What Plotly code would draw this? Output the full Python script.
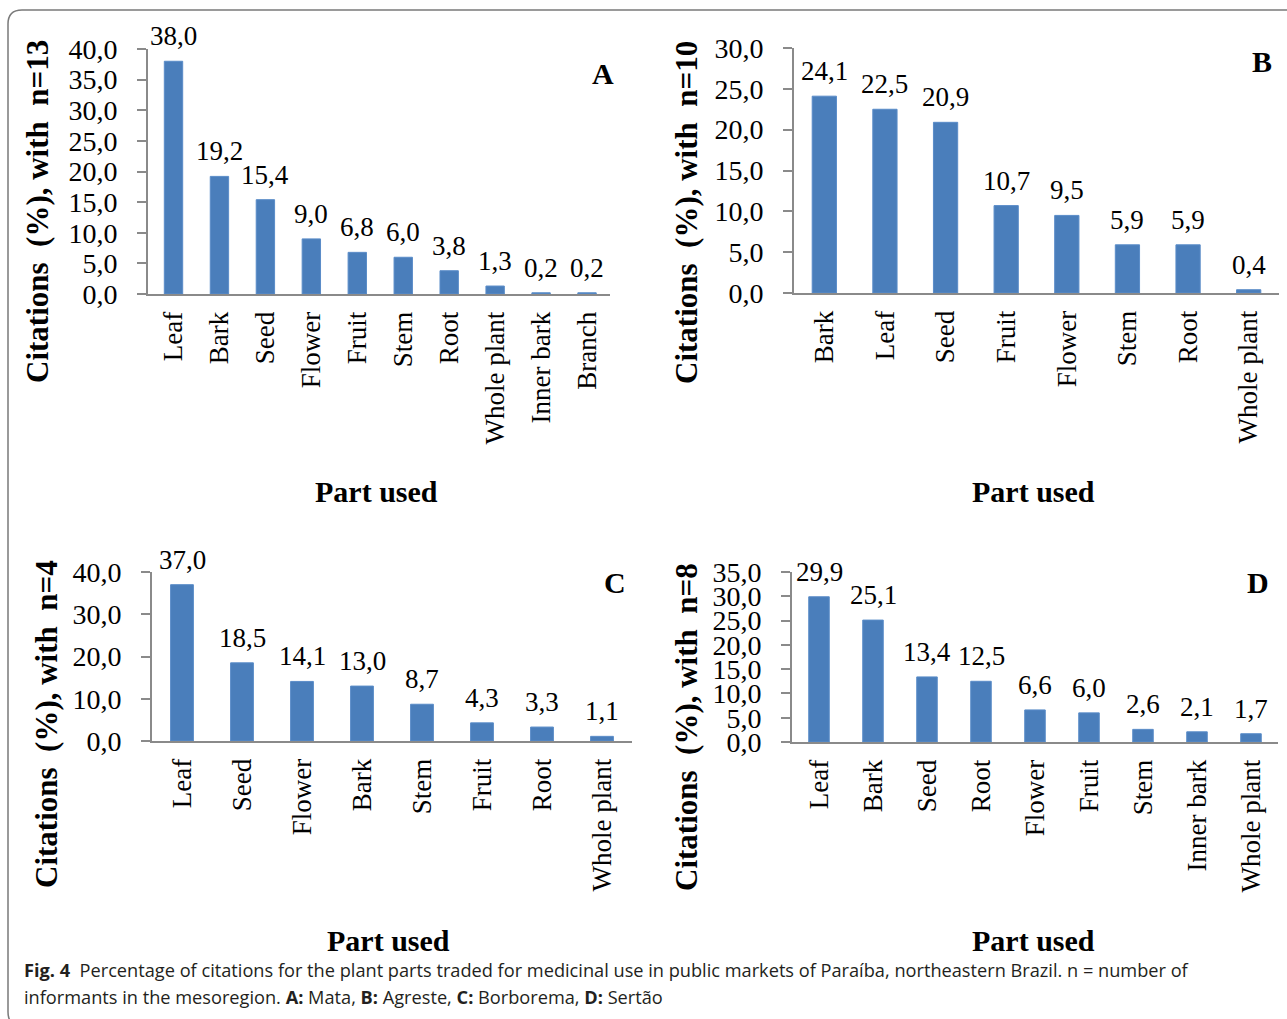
import plotly.graph_objects as go

W, H = 1287, 1019

# ---- data -----------------------------------------------------------------
# A: Mata (n=13)
parts_a = ["Leaf", "Bark", "Seed", "Flower", "Fruit", "Stem", "Root",
           "Whole plant", "Inner bark", "Branch"]
cit_a = [38.0, 19.2, 15.4, 9.0, 6.8, 6.0, 3.8, 1.3, 0.2, 0.2]
tickvals_a = [0, 5, 10, 15, 20, 25, 30, 35, 40]
ticktext_a = ["0,0", "5,0", "10,0", "15,0", "20,0", "25,0", "30,0", "35,0", "40,0"]

# B: Agreste (n=10)
parts_b = ["Bark", "Leaf", "Seed", "Fruit", "Flower", "Stem", "Root", "Whole plant"]
cit_b = [24.1, 22.5, 20.9, 10.7, 9.5, 5.9, 5.9, 0.4]
tickvals_b = [0, 5, 10, 15, 20, 25, 30]
ticktext_b = ["0,0", "5,0", "10,0", "15,0", "20,0", "25,0", "30,0"]

# C: Borborema (n=4)
parts_c = ["Leaf", "Seed", "Flower", "Bark", "Stem", "Fruit", "Root", "Whole plant"]
cit_c = [37.0, 18.5, 14.1, 13.0, 8.7, 4.3, 3.3, 1.1]
tickvals_c = [0, 10, 20, 30, 40]
ticktext_c = ["0,0", "10,0", "20,0", "30,0", "40,0"]

# D: Sertão (n=8)
parts_d = ["Leaf", "Bark", "Seed", "Root", "Flower", "Fruit", "Stem",
           "Inner bark", "Whole plant"]
cit_d = [29.9, 25.1, 13.4, 12.5, 6.6, 6.0, 2.6, 2.1, 1.7]
tickvals_d = [0, 5, 10, 15, 20, 25, 30, 35]
ticktext_d = ["0,0", "5,0", "10,0", "15,0", "20,0", "25,0", "30,0", "35,0"]

y_titles = ["Citations  (%), with  n=13", "Citations  (%), with  n=10",
            "Citations  (%), with  n=4", "Citations  (%), with  n=8"]
panel_letters = ["A", "B", "C", "D"]
x_title = "Part used"

# ---- styling ----------------------------------------------------------------
SERIF = "Liberation Serif"
BAR = "#4A7EBB"
AXIS = "#8A8A8A"


def fx(px):
    return px / W


def fy(py):
    return 1 - py / H


panels = [
    # data, pixel box of plot area (x0, x1, ytop, ybottom), y max, bar width,
    # y-title centre, x-title centre, letter position
    dict(parts=parts_a, vals=cit_a, tv=tickvals_a, tt=ticktext_a, ymax=40,
         box=(148, 610, 49, 294), bw=0.40, yt=(38, 212), xt=(376, 492), lt=(603, 73)),
    dict(parts=parts_b, vals=cit_b, tv=tickvals_b, tt=ticktext_b, ymax=30,
         box=(794, 1279, 48, 293), bw=0.40, yt=(686, 213), xt=(1033, 492), lt=(1262, 62)),
    dict(parts=parts_c, vals=cit_c, tv=tickvals_c, tt=ticktext_c, ymax=40,
         box=(152, 632, 572, 741), bw=0.38, yt=(46, 724), xt=(388, 940), lt=(615, 582)),
    dict(parts=parts_d, vals=cit_d, tv=tickvals_d, tt=ticktext_d, ymax=35,
         box=(792, 1278, 572, 742), bw=0.38, yt=(686, 727), xt=(1033, 940), lt=(1258, 582)),
]

fig = go.Figure()
layout = dict(
    width=W, height=H,
    margin=dict(l=0, r=0, t=0, b=0, autoexpand=False),
    paper_bgcolor="white", plot_bgcolor="white",
    showlegend=False,
    font=dict(family=SERIF, color="black"),
)
annotations = []

for i, p in enumerate(panels):
    k = "" if i == 0 else str(i + 1)
    xa, ya = "x" + k, "y" + k
    x0, x1, yt, yb = p["box"]

    fig.add_trace(go.Bar(
        x=p["parts"], y=p["vals"], xaxis=xa, yaxis=ya,
        width=p["bw"], marker=dict(color=BAR, line=dict(color="#5A8CC8", width=1)),
        hoverinfo="x+y",
    ))

    layout["xaxis" + k] = dict(
        domain=[fx(x0), fx(x1)], anchor=ya, type="category",
        categoryorder="array", categoryarray=p["parts"],
        showline=True, linecolor=AXIS, linewidth=2,
        showgrid=False, zeroline=False, ticks="", automargin=False,
        tickangle=-90, ticklabelstandoff=5,
        tickfont=dict(family=SERIF, size=27, color="black"),
    )
    layout["yaxis" + k] = dict(
        domain=[fy(yb), fy(yt)], anchor=xa, range=[0, p["ymax"]],
        tickvals=p["tv"], ticktext=p["tt"], automargin=False,
        showline=True, linecolor=AXIS, linewidth=2,
        ticks="outside", ticklen=9, tickcolor=AXIS, tickwidth=2,
        ticklabelstandoff=14,
        showgrid=False, zeroline=False,
        tickfont=dict(family=SERIF, size=28, color="black"),
    )

    # value labels above each bar
    for cat, v in zip(p["parts"], p["vals"]):
        annotations.append(dict(
            x=cat, y=v, xref=xa, yref=ya, text=f"{v:.1f}".replace(".", ","),
            showarrow=False, yanchor="bottom", yshift=8,
            font=dict(family=SERIF, size=27, color="black"),
        ))

    # axis titles and panel letter
    annotations.append(dict(
        x=fx(p["yt"][0]), y=fy(p["yt"][1]), xref="paper", yref="paper",
        text="<b>" + y_titles[i] + "</b>", textangle=-90, showarrow=False,
        xanchor="center", yanchor="middle",
        font=dict(family=SERIF, size=31, color="black"),
    ))
    annotations.append(dict(
        x=fx(p["xt"][0]), y=fy(p["xt"][1]), xref="paper", yref="paper",
        text="<b>" + x_title + "</b>", showarrow=False,
        xanchor="center", yanchor="middle",
        font=dict(family=SERIF, size=30, color="black"),
    ))
    annotations.append(dict(
        x=fx(p["lt"][0]), y=fy(p["lt"][1]), xref="paper", yref="paper",
        text="<b>" + panel_letters[i] + "</b>", showarrow=False,
        xanchor="center", yanchor="middle",
        font=dict(family=SERIF, size=30, color="black"),
    ))

# figure caption
CAP = "Open Sans"
annotations.append(dict(
    x=fx(22), y=fy(970), xref="paper", yref="paper", xanchor="left", yanchor="middle",
    showarrow=False, align="left",
    text="<b>Fig. 4</b>  Percentage of citations for the plant parts traded for medicinal use "
         "in public markets of Paraíba, northeastern Brazil. n = number of",
    font=dict(family=CAP, size=18.2, color="#231F20"),
))
annotations.append(dict(
    x=fx(22), y=fy(997), xref="paper", yref="paper", xanchor="left", yanchor="middle",
    showarrow=False, align="left",
    text="informants in the mesoregion. <b>A:</b> Mata, <b>B:</b> Agreste, "
         "<b>C:</b> Borborema, <b>D:</b> Sertão",
    font=dict(family=CAP, size=18.2, color="#231F20"),
))

layout["annotations"] = annotations

# rounded frame around the figure
r = 14
frame = (f"M {fx(8)},{fy(10 + r)} Q {fx(8)},{fy(10)} {fx(8 + r)},{fy(10)} "
         f"L {fx(1300)},{fy(10)} "
         f"M {fx(8)},{fy(10 + r)} L {fx(8)},{fy(1012)} "
         f"Q {fx(8)},{fy(1012 + r)} {fx(8 + r)},{fy(1012 + r)}")
layout["shapes"] = [dict(type="path", path=frame, xref="paper", yref="paper",
                         line=dict(color="#7A7A7A", width=1.5))]

fig.update_layout(**layout)
fig.write_html("out.html")
